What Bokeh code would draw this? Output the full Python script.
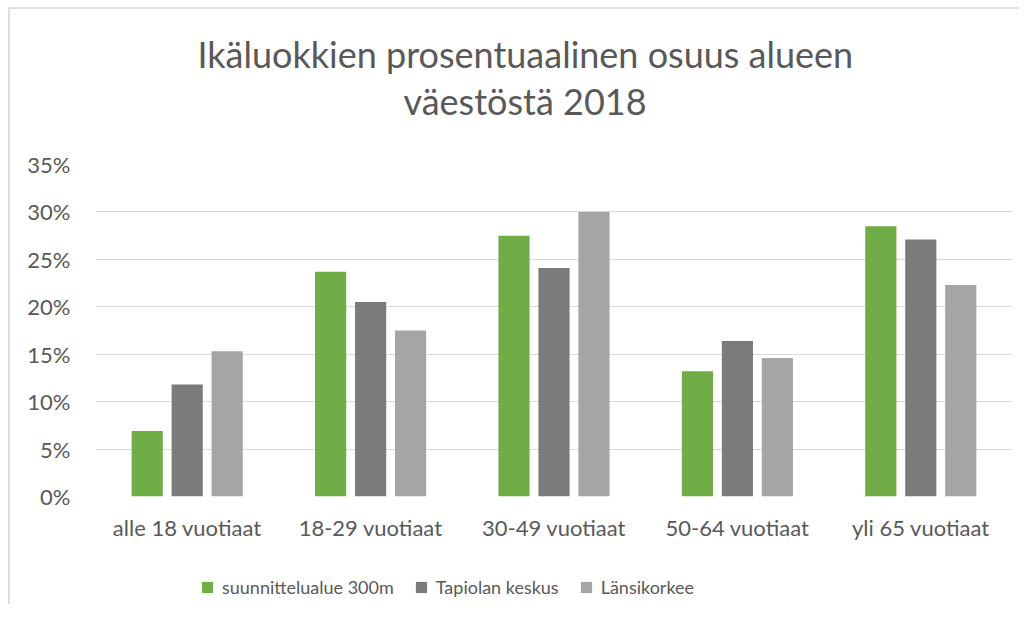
from bokeh.plotting import figure
from bokeh.layouts import column
from bokeh.models import (FactorRange, Range1d, Legend, LegendItem, Title, PrintfTickFormatter,
                          FixedTicker, ColumnDataSource)
from bokeh.transform import dodge
from bokeh.embed import file_html
from bokeh.resources import INLINE

categories = ["alle 18 vuotiaat", "18-29 vuotiaat", "30-49 vuotiaat", "50-64 vuotiaat", "yli 65 vuotiaat"]
series_names = ["suunnittelualue 300m", "Tapiolan keskus", "Länsikorkee"]
suunnittelualue = [6.9, 23.7, 27.5, 13.2, 28.5]
tapiola = [11.8, 20.5, 24.1, 16.4, 27.1]
lansikorkee = [15.3, 17.5, 30.0, 14.6, 22.3]
y_ticks = [0, 5, 10, 15, 20, 25, 30, 35]
title_lines = ["Ikäluokkien prosentuaalinen osuus alueen", "väestöstä 2018"]

colors = ["#70AD47", "#7B7B7B", "#A5A5A5"]
FONT = "Lato"
TXT = "#595959"

src = ColumnDataSource(dict(cat=categories, s1=suunnittelualue, s2=tapiola, s3=lansikorkee))
xr = FactorRange(*categories)

p = figure(x_range=xr, y_range=(0, 35), width=1019, height=560,
           output_backend="svg", toolbar_location=None,
           min_border_left=95, min_border_right=7, min_border_top=164, min_border_bottom=64)
p.title = None
p.border_fill_alpha = 0
p.background_fill_alpha = 0

offsets = [-0.218, 0.0, 0.218]
cols = ["s1", "s2", "s3"]
for off, c, col in zip(offsets, cols, colors):
    p.vbar(x=dodge("cat", off, range=xr), top=c, width=0.17, source=src,
           fill_color=col, line_color=None)

# title: spacer closest to the frame, then line 2, then line 1
top_gap = Title(text=" ", text_font=FONT, text_font_size="10px", standoff=27)
t2 = Title(text=title_lines[1], align="left", offset=308, text_font=FONT, text_font_size="36px",
           text_font_style="normal", text_color=TXT, standoff=1)
t1 = Title(text=title_lines[0], align="left", offset=102, text_font=FONT, text_font_size="36px",
           text_font_style="normal", text_color=TXT, standoff=1)
p.add_layout(top_gap, "above")
p.add_layout(t2, "above")
p.add_layout(t1, "above")

p.yaxis.ticker = FixedTicker(ticks=y_ticks)
p.yaxis.formatter = PrintfTickFormatter(format="%d%%")
for ax in (p.xaxis, p.yaxis):
    ax.axis_line_color = None
    ax.major_tick_line_color = None
    ax.minor_tick_line_color = None
    ax.major_label_text_font = FONT
    ax.major_label_text_font_size = "22px"
    ax.major_label_text_color = TXT
p.yaxis.major_label_standoff = 19
p.xaxis.major_label_standoff = 11

p.xgrid.grid_line_color = None
p.ygrid.grid_line_color = "#D9D9D9"
p.ygrid.grid_line_width = 1
p.outline_line_color = None

# legend strip below the chart; its bars fall far outside its visible y range
lf = figure(x_range=xr, y_range=Range1d(50, 51), width=1019, height=44,
            output_backend="svg", toolbar_location=None,
            x_axis_type=None, y_axis_type=None, min_border=0)
lf.title = None
lf.grid.grid_line_color = None
lf.outline_line_color = None
lf.border_fill_alpha = 0
lf.background_fill_alpha = 0
lrs = []
for off, c, col in zip(offsets, cols, colors):
    lrs.append(lf.vbar(x=dodge("cat", off, range=xr), top=c, width=0.17, source=src,
                       fill_color=col, line_color=None))
legend = Legend(items=[LegendItem(label=n, renderers=[r]) for n, r in zip(series_names, lrs)],
                orientation="horizontal", location=(105, 6),
                label_text_font=FONT, label_text_font_size="18px", label_text_color=TXT,
                glyph_width=14, glyph_height=14, spacing=20, padding=0, margin=0,
                label_standoff=8, border_line_color=None, background_fill_alpha=0)
lf.add_layout(legend)

frame_bg = ("linear-gradient(#DEDEDE, #DEDEDE) 8px 7px / 2px 100% no-repeat, "
            "linear-gradient(#DEDEDE, #DEDEDE) 8px 7px / 100% 2px no-repeat, #FFFFFF")
layout = column(p, lf, spacing=0, styles={"background": frame_bg})
open("out.html", "w").write(file_html(layout, INLINE))
